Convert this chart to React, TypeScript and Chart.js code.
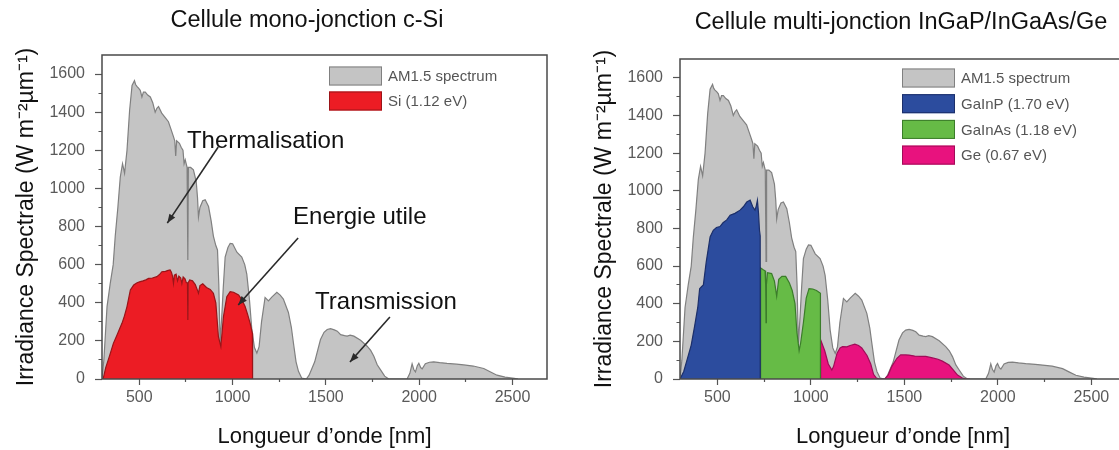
import { useEffect, useRef } from 'react';
import { Chart, registerables } from 'chart.js';

Chart.register(...registerables);

const FONT = "'Liberation Sans', Arial, Helvetica, sans-serif";

// ---------- data (wavelength nm, spectral irradiance W m-2 um-1) ----------
const am15Spectrum: [number, number][] = [
  [300, 0], [310, 100], [327, 380], [344, 500], [360, 600], [371, 750], [385, 900], [398, 1060],
  [410, 1130], [421, 1080], [434, 1200], [448, 1410], [461, 1540], [474, 1565], [480, 1545],
  [487, 1535], [497, 1525], [505, 1515], [514, 1480], [522, 1505], [532, 1505], [545, 1490],
  [559, 1480], [572, 1450], [585, 1400], [594, 1420], [603, 1430], [620, 1395], [640, 1370],
  [656, 1350], [670, 1310], [683, 1272], [690, 1250], [695, 1170], [700, 1250], [715, 1237],
  [725, 1215], [734, 1200], [740, 1130], [746, 1150], [756, 1110], [760, 625], [763, 1110],
  [775, 1110], [790, 1097], [805, 1036], [812, 950], [817, 850], [825, 900], [840, 935],
  [853, 940], [871, 905], [885, 830], [897, 750], [910, 700], [919, 677], [926, 500],
  [933, 190], [942, 330], [950, 480], [960, 640], [975, 690], [987, 712], [1000, 710],
  [1023, 665], [1049, 640], [1065, 600], [1076, 550], [1090, 420], [1103, 260], [1117, 165],
  [1130, 136], [1142, 170], [1155, 300], [1174, 428], [1192, 410], [1210, 430], [1237, 455],
  [1255, 440], [1272, 419], [1299, 349], [1315, 270], [1326, 189], [1340, 90], [1353, 40],
  [1370, 5], [1395, 0], [1410, 20], [1440, 90], [1471, 207], [1490, 245], [1507, 260],
  [1525, 264], [1545, 258], [1561, 251], [1579, 233], [1600, 228], [1614, 225], [1630, 230],
  [1650, 225], [1686, 203], [1721, 172], [1740, 150], [1757, 119], [1775, 75], [1793, 48],
  [1815, 15], [1837, 0], [1935, 0], [1950, 30], [1962, 80], [1971, 50], [1980, 37],
  [1990, 70], [1998, 82], [2008, 60], [2016, 53], [2033, 80], [2055, 88], [2078, 90],
  [2110, 86], [2149, 82], [2200, 78], [2239, 74], [2290, 68], [2346, 55], [2380, 38],
  [2417, 20], [2460, 10], [2510, 3], [2530, 0],
];

const siUseful: [number, number][] = [
  [300, 0], [306, 0], [320, 60], [340, 120], [361, 187], [380, 230], [395, 265], [407, 292],
  [420, 330], [434, 380], [452, 467], [470, 493], [488, 505], [505, 511], [520, 515],
  [535, 520], [550, 528], [570, 530], [594, 537], [610, 550], [621, 563], [640, 565],
  [655, 570], [665, 572], [672, 560], [678, 540], [683, 502], [688, 545], [697, 550],
  [705, 515], [712, 540], [722, 530], [728, 500], [735, 535], [745, 525], [752, 505],
  [758, 505], [760, 310], [762, 505], [770, 520], [785, 515], [800, 495], [810, 470],
  [817, 450], [825, 490], [840, 500], [860, 480], [880, 470], [897, 450], [910, 400],
  [924, 222], [937, 170], [951, 327], [969, 432], [987, 458], [1005, 455], [1032, 441],
  [1050, 415], [1067, 380], [1080, 340], [1094, 292], [1106, 240], [1107, 0],
];

const gainpUseful: [number, number][] = [
  [300, 0], [320, 40], [340, 110], [360, 180], [378, 280], [395, 380], [405, 480], [415, 490],
  [425, 500], [440, 620], [461, 755], [478, 790], [495, 805], [514, 810], [530, 830],
  [550, 845], [568, 870], [594, 880], [621, 897], [639, 915], [657, 940], [675, 950],
  [689, 915], [701, 897], [708, 920], [714, 950], [720, 880], [725, 790], [729, 760], [729, 0],
];

const gainasUseful: [number, number][] = [
  [731, 0], [731, 590], [745, 580], [755, 575], [758, 500], [760, 300], [762, 500],
  [768, 565], [790, 560], [805, 520], [817, 440], [828, 530], [845, 545], [865, 545],
  [885, 510], [900, 470], [915, 400], [925, 250], [937, 150], [945, 190], [960, 300],
  [975, 430], [990, 480], [1010, 478], [1030, 470], [1045, 460], [1051, 455], [1051, 0],
];

const geUseful: [number, number][] = [
  [1052, 0], [1052, 208], [1074, 150], [1093, 80], [1112, 48], [1121, 66], [1140, 137],
  [1156, 165], [1169, 172], [1192, 171], [1210, 178], [1235, 185], [1255, 178], [1272, 165],
  [1300, 125], [1320, 80], [1335, 25], [1350, 5], [1366, 0], [1395, 0], [1413, 20],
  [1432, 66], [1460, 110], [1480, 128], [1507, 128], [1525, 127], [1555, 122], [1585, 120],
  [1614, 120], [1650, 112], [1680, 105], [1703, 95], [1739, 74], [1760, 50], [1784, 21],
  [1810, 5], [1830, 0], [1850, 0],
];

const xTickValues = [500, 750, 1000, 1250, 1500, 1750, 2000, 2250, 2500];
const xLabelledTicks = [500, 1000, 1500, 2000, 2500];
const yTickValues = [0, 100, 200, 300, 400, 500, 600, 700, 800, 900, 1000, 1100, 1200, 1300, 1400, 1500, 1600];
const yLabelledTicks = [0, 200, 400, 600, 800, 1000, 1200, 1400, 1600];

const leftTitle = 'Cellule mono-jonction c-Si';
const rightTitle = 'Cellule multi-jonction InGaP/InGaAs/Ge';
const xAxisTitle = 'Longueur d’onde [nm]';
const yAxisTitle = 'Irradiance Spectrale (W m⁻²µm⁻¹)';

const siAnnotations = [
  { text: 'Thermalisation', at: [755, 1245], from: [923, 1217], to: [650, 818] },
  { text: 'Energie utile', at: [1324, 850], from: [1351, 740], to: [1030, 388] },
  { text: 'Transmission', at: [1442, 400], from: [1843, 325], to: [1629, 89] },
];

// ---------- styles ----------
const GRAY = { fill: '#c4c4c4', line: '#808080' };
const RED = { fill: '#ec1c24', line: '#9a1418' };
const BLUE = { fill: '#2c4c9e', line: '#1c2f6a' };
const GREEN = { fill: '#66bb46', line: '#3b7d2a' };
const PINK = { fill: '#e8127e', line: '#a00c58' };

const toPoints = (arr: [number, number][]) => arr.map(([x, y]) => ({ x, y }));

function area(label: string, data: [number, number][], c: { fill: string; line: string }, order: number) {
  return {
    label,
    data: toPoints(data),
    backgroundColor: c.fill,
    borderColor: c.line,
    borderWidth: 1.2,
    fill: 'origin',
    pointRadius: 0,
    tension: 0,
    order,
  };
}

type DecorCfg = {
  title: string;
  titleX: number;
  titleY: number;
  legendX: number;
  legendY: number;
  legendStep: number;
  annotations?: { text: string; at: number[]; from: number[]; to: number[] }[];
};

function makeDecor(cfg: DecorCfg) {
  return {
    id: 'decor',
    afterDraw(chart: any) {
      const { ctx, chartArea: a, scales } = chart;
      ctx.save();
      // frame
      ctx.strokeStyle = '#4a4a4a';
      ctx.lineWidth = 1.5;
      ctx.strokeRect(a.left, a.top, a.right - a.left, a.bottom - a.top);

      // title
      ctx.fillStyle = '#111';
      ctx.font = `23.5px ${FONT}`;
      ctx.textAlign = 'center';
      ctx.textBaseline = 'middle';
      ctx.fillText(cfg.title, cfg.titleX, cfg.titleY);

      // legend
      ctx.font = `15px ${FONT}`;
      ctx.textAlign = 'left';
      chart.data.datasets.forEach((ds: any, i: number) => {
        const cy = cfg.legendY + i * cfg.legendStep;
        ctx.fillStyle = ds.backgroundColor;
        ctx.fillRect(cfg.legendX, cy - 9.5, 53, 19);
        ctx.strokeStyle = ds.borderColor;
        ctx.lineWidth = 1;
        ctx.strokeRect(cfg.legendX + 0.5, cy - 9, 52, 18);
        ctx.fillStyle = '#555';
        ctx.fillText(ds.label, cfg.legendX + 59, cy + 1);
      });

      // annotations
      (cfg.annotations || []).forEach((an) => {
        const x = scales.x, y = scales.y;
        ctx.fillStyle = '#111';
        ctx.font = `24px ${FONT}`;
        ctx.textAlign = 'left';
        ctx.textBaseline = 'middle';
        ctx.fillText(an.text, x.getPixelForValue(an.at[0]), y.getPixelForValue(an.at[1]));
        const x1 = x.getPixelForValue(an.from[0]), y1 = y.getPixelForValue(an.from[1]);
        const x2 = x.getPixelForValue(an.to[0]), y2 = y.getPixelForValue(an.to[1]);
        ctx.strokeStyle = '#2a2a2a';
        ctx.lineWidth = 1.6;
        ctx.beginPath();
        ctx.moveTo(x1, y1);
        ctx.lineTo(x2, y2);
        ctx.stroke();
        const ang = Math.atan2(y2 - y1, x2 - x1);
        const L = 9, W = 3.5;
        ctx.fillStyle = '#2a2a2a';
        ctx.beginPath();
        ctx.moveTo(x2, y2);
        ctx.lineTo(x2 - L * Math.cos(ang) + W * Math.sin(ang), y2 - L * Math.sin(ang) - W * Math.cos(ang));
        ctx.lineTo(x2 - L * Math.cos(ang) - W * Math.sin(ang), y2 - L * Math.sin(ang) + W * Math.cos(ang));
        ctx.closePath();
        ctx.fill();
      });
      ctx.restore();
    },
  };
}

type ChartCfg = {
  datasets: any[];
  padTop: number;
  padRight: number;
  yWidth: number;
  xHeight: number;
  yTitlePad: number;
  decor: DecorCfg;
};

function buildConfig(c: ChartCfg): any {
  const tickFont = { family: FONT, size: 16 };
  return {
    type: 'line',
    data: { datasets: c.datasets },
    plugins: [makeDecor(c.decor)],
    options: {
      animation: false,
      responsive: false,
      maintainAspectRatio: false,
      layout: { padding: { top: c.padTop, right: c.padRight, left: 0, bottom: 0 } },
      plugins: { legend: { display: false }, tooltip: { enabled: false }, title: { display: false } },
      scales: {
        x: {
          type: 'linear',
          min: 300,
          max: 2685,
          afterBuildTicks: (s: any) => {
            s.ticks = xTickValues.map((v) => ({ value: v }));
          },
          afterFit: (s: any) => {
            s.height = c.xHeight;
          },
          ticks: {
            autoSkip: false,
            maxRotation: 0,
            padding: 3,
            color: '#5a5a5a',
            font: tickFont,
            callback: (v: number) => (xLabelledTicks.includes(v) ? String(v) : ''),
          },
          grid: {
            drawOnChartArea: false,
            drawTicks: true,
            tickLength: 6,
            tickColor: '#555',
            tickWidth: 1.2,
            tickBorderDash: (ctx: any) => (ctx.tick && !xLabelledTicks.includes(ctx.tick.value) ? [3, 30] : []),
          },
          border: { display: false },
          title: {
            display: true,
            text: xAxisTitle,
            color: '#111',
            font: { family: FONT, size: 22 },
            padding: { top: 0, bottom: 0 },
          },
        },
        y: {
          type: 'linear',
          min: 0,
          max: 1700,
          afterBuildTicks: (s: any) => {
            s.ticks = yTickValues.map((v) => ({ value: v }));
          },
          afterFit: (s: any) => {
            s.width = c.yWidth;
          },
          ticks: {
            autoSkip: false,
            padding: 10,
            color: '#5a5a5a',
            font: tickFont,
            callback: (v: number) => (yLabelledTicks.includes(v) ? String(v) : ''),
          },
          grid: {
            drawOnChartArea: false,
            drawTicks: true,
            tickLength: 7,
            tickColor: '#555',
            tickWidth: 1.2,
            tickBorderDash: (ctx: any) => (ctx.tick && !yLabelledTicks.includes(ctx.tick.value) ? [0, 3.5, 3.5, 30] : []),
          },
          border: { display: false },
          title: {
            display: true,
            text: yAxisTitle,
            color: '#111',
            font: { family: FONT, size: 23 },
            padding: { top: c.yTitlePad, bottom: 0 },
          },
        },
      },
    },
  };
}

function ChartCanvas({ cfg, left }: { cfg: ChartCfg; left: number }) {
  const ref = useRef<HTMLCanvasElement | null>(null);
  useEffect(() => {
    if (!ref.current) return;
    const chart = new Chart(ref.current, buildConfig(cfg));
    return () => chart.destroy();
  }, [cfg]);
  return (
    <canvas
      ref={ref}
      width={560}
      height={450}
      style={{ position: 'absolute', left, top: 0, width: 560, height: 450 }}
    />
  );
}

const leftCfg: ChartCfg = {
  datasets: [
    area('AM1.5 spectrum', am15Spectrum, GRAY, 2),
    area('Si (1.12 eV)', siUseful, RED, 1),
  ],
  padTop: 55,
  padRight: 13,
  yWidth: 102,
  xHeight: 71,
  yTitlePad: 13,
  decor: {
    title: leftTitle,
    titleX: 307,
    titleY: 21,
    legendX: 329,
    legendY: 76,
    legendStep: 25,
    annotations: siAnnotations,
  },
};

const rightCfg: ChartCfg = {
  datasets: [
    area('AM1.5 spectrum', am15Spectrum, GRAY, 2),
    area('GaInP (1.70 eV)', gainpUseful, BLUE, 1),
    area('GaInAs (1.18 eV)', gainasUseful, GREEN, 1),
    area('Ge (0.67 eV)', geUseful, PINK, 1),
  ],
  padTop: 59,
  padRight: 14,
  yWidth: 100,
  xHeight: 71,
  yTitlePad: 11,
  decor: {
    title: rightTitle,
    titleX: 321,
    titleY: 23,
    legendX: 322,
    legendY: 78,
    legendStep: 25.7,
  },
};

export default function App() {
  return (
    <div
      style={{
        position: 'absolute',
        left: 0,
        top: 0,
        width: 1119,
        height: 450,
        overflow: 'hidden',
        background: '#fff',
      }}
    >
      <ChartCanvas cfg={leftCfg} left={0} />
      <ChartCanvas cfg={rightCfg} left={580} />
    </div>
  );
}
